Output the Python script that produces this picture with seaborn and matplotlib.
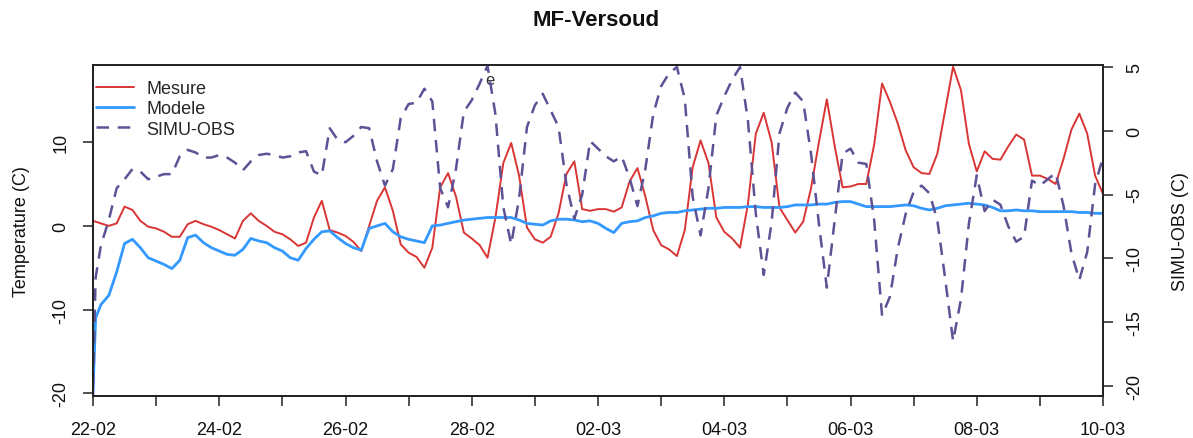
import numpy as np
import pandas as pd
import matplotlib
matplotlib.use("Agg")
import matplotlib.pyplot as plt
import seaborn as sns

# ---------------- data ----------------
# sampling times in hours since 22-02 00:00 (first two samples hourly, then every 3 h)
hours = np.concatenate([[0, 1], np.arange(3, 385, 3)])

# Mesure (observed temperature, C) - left axis
mesure = [0.6, 0.5,
          0.3, 0.0, 0.3, 2.3, 1.9, 0.6, -0.1, -0.3,
          -0.7, -1.3, -1.3, 0.2, 0.6, 0.2, -0.1, -0.5,
          -1.0, -1.5, 0.6, 1.5, 0.6, 0.0, -0.7, -1.0,
          -1.6, -2.4, -2.0, 1.0, 3.0, -0.5, -0.8, -1.2,
          -1.9, -3.0, 0.0, 3.0, 4.6, 1.8, -2.2, -3.2,
          -3.7, -5.0, -2.6, 4.6, 6.3, 3.5, -0.8, -1.5,
          -2.3, -3.8, 1.0, 7.5, 9.9, 6.0, -0.2, -1.6,
          -2.0, -1.3, 1.5, 6.2, 7.7, 2.0, 1.8, 2.0,
          2.0, 1.7, 2.2, 5.3, 6.9, 3.5, -0.5, -2.3,
          -2.8, -3.6, -0.5, 7.0, 10.2, 7.5, 1.0, -0.7,
          -1.5, -2.6, 2.6, 11.0, 13.5, 10.0, 2.2, 0.7,
          -0.8, 0.5, 4.5, 10.0, 15.1, 9.5, 4.6, 4.7,
          5.0, 5.0, 9.7, 17.0, 14.8, 12.2, 9.0, 7.0,
          6.3, 6.2, 8.6, 13.8, 19.0, 16.2, 9.8, 6.5,
          8.9, 8.0, 7.9, 9.5, 10.9, 10.3, 6.0, 6.0,
          5.6, 5.0, 8.0, 11.5, 13.4, 11.0, 6.0, 3.8]

# Modele (simulated temperature, C) - left axis
modele = [-20.0, -11.0,
          -9.4, -8.3, -5.5, -2.1, -1.6, -2.6, -3.8, -4.2,
          -4.6, -5.1, -4.1, -1.4, -1.1, -2.0, -2.6, -3.0,
          -3.4, -3.5, -2.8, -1.5, -1.8, -2.0, -2.6, -3.0,
          -3.8, -4.1, -2.7, -1.6, -0.7, -0.6, -1.4, -2.1,
          -2.6, -2.9, -0.3, 0.0, 0.3, -0.7, -1.3, -1.6,
          -1.8, -2.0, 0.0, 0.1, 0.3, 0.5, 0.7, 0.8,
          0.9, 1.0, 1.0, 1.0, 1.0, 0.7, 0.3, 0.2,
          0.1, 0.6, 0.8, 0.8, 0.7, 0.5, 0.6, 0.3,
          -0.3, -0.8, 0.3, 0.5, 0.6, 1.0, 1.2, 1.5,
          1.6, 1.6, 1.8, 1.9, 2.0, 2.1, 2.1, 2.2,
          2.2, 2.2, 2.3, 2.3, 2.2, 2.2, 2.2, 2.3,
          2.5, 2.5, 2.5, 2.6, 2.6, 2.8, 2.9, 2.9,
          2.6, 2.3, 2.3, 2.3, 2.3, 2.4, 2.5, 2.4,
          2.1, 1.9, 2.1, 2.4, 2.5, 2.6, 2.7, 2.6,
          2.5, 2.2, 1.8, 1.8, 1.9, 1.8, 1.8, 1.7,
          1.7, 1.7, 1.7, 1.7, 1.6, 1.6, 1.5, 1.5]

# SIMU-OBS (C) - right axis
simu_obs = [-20.0, -11.5,
            -9.0, -7.0, -4.5, -3.8, -3.0, -3.2, -3.8, -3.6,
            -3.4, -3.4, -2.0, -1.5, -1.7, -2.1, -2.1, -1.9,
            -2.1, -2.5, -3.1, -2.4, -1.9, -1.8, -1.9, -2.1,
            -2.0, -1.7, -1.6, -3.2, -3.5, 0.2, -0.7, -0.9,
            -0.4, 0.3, 0.2, -2.4, -4.3, -3.0, 1.0, 2.1,
            2.2, 3.3, 2.3, -4.5, -6.0, -3.0, 1.5, 2.4,
            3.7, 5.1, 1.3, -6.0, -8.9, -5.3, 0.3, 2.0,
            2.9, 1.6, 0.3, -4.2, -6.9, -5.0, -0.8, -1.4,
            -2.0, -2.4, -2.0, -3.7, -5.9, -3.0, 1.3, 3.5,
            4.5, 5.0, 2.5, -5.2, -8.2, -4.5, 1.2, 2.7,
            4.0, 5.0, 0.8, -6.5, -11.3, -7.2, -0.2, 1.8,
            3.0, 2.3, -1.8, -7.3, -12.3, -7.0, -1.8, -1.4,
            -2.5, -2.6, -7.0, -14.5, -13.0, -9.2, -6.5, -4.8,
            -4.3, -4.9, -7.0, -11.6, -16.5, -13.2, -7.3, -3.5,
            -6.3, -5.4, -5.8, -7.5, -8.7, -8.3, -3.9, -4.3,
            -3.8, -3.3, -5.9, -9.6, -11.7, -9.5, -4.2, -2.1]

date_labels = ["22-02", "24-02", "26-02", "28-02", "02-03",
               "04-03", "06-03", "08-03", "10-03"]
left_ticks = [-20, -10, 0, 10]
right_ticks = [-20, -15, -10, -5, 0, 5]

# ---------------- styling ----------------
sns.set_theme(style="ticks")
plt.rcParams["font.family"] = ["Liberation Sans", "DejaVu Sans"]

RED = "#DA3535"
BLUE = "#3399FF"
PURPLE = "#5E5296"

df = pd.DataFrame({"day": hours / 24.0, "Mesure": mesure,
                   "Modele": modele, "SIMU-OBS": simu_obs})

fig = plt.figure(figsize=(11.93, 4.39), dpi=100)
ax = fig.add_axes([93 / 1193, 1 - 397 / 439, 1010 / 1193, 331 / 439])
ax2 = ax.twinx()

sns.lineplot(data=df, x="day", y="Mesure", ax=ax, color=RED, lw=1.4,
             label="Mesure", legend=False)
sns.lineplot(data=df, x="day", y="Modele", ax=ax, color=BLUE, lw=2.0,
             label="Modele", legend=False)
sns.lineplot(data=df, x="day", y="SIMU-OBS", ax=ax2, color=PURPLE, lw=1.8,
             linestyle=(0, (5, 3.5)), label="SIMU-OBS", legend=False)

ax.set_xlim(0, 16)
ax.set_ylim(-20.3, 19.2)
ax2.set_ylim(-20.8, 5.16)

ax.set_xticks(np.arange(0, 17, 2))
ax.set_xticklabels(date_labels)
ax.set_xticks(np.arange(1, 17, 2), minor=True)
ax.set_yticks(left_ticks)
ax.set_yticklabels([str(v) for v in left_ticks])
ax2.set_yticks(right_ticks)
ax2.set_yticklabels([str(v) for v in right_ticks])

for a in (ax, ax2):
    for s in a.spines.values():
        s.set_visible(True)
        s.set_linewidth(1.3)
        s.set_color("#222222")
    a.tick_params(which="both", direction="out", length=7, width=1.1,
                  color="#222222", labelsize=13, labelcolor="#111111")
ax.tick_params(axis="x", which="both", pad=11)
ax.tick_params(axis="y", pad=10, labelrotation=90)
ax2.tick_params(axis="y", pad=10, labelrotation=90)
for lab in ax.get_yticklabels() + ax2.get_yticklabels():
    lab.set_va("center")

ax.set_xlabel("")
ax.set_ylabel("Temperature (C)", fontsize=13, color="#111111")
ax.yaxis.set_label_coords(-0.062, 0.5)
ax2.set_ylabel("SIMU-OBS (C)", fontsize=13, color="#111111")
ax2.yaxis.set_label_coords(1.068, 0.5)

fig.text(0.5, 1 - 20 / 439, "MF-Versoud", ha="center", va="center",
         fontsize=16, fontweight="bold", color="#111111")

# stray glyph in the reference
ax.text(6.29, 17.5, "e", ha="center", va="center", fontsize=12, color="#333333")

h1, l1 = ax.get_legend_handles_labels()
h2, l2 = ax2.get_legend_handles_labels()
ax2.legend(h1 + h2, l1 + l2, loc="upper left", bbox_to_anchor=(0.003, 0.954),
           frameon=False, fontsize=13, handlelength=2.1, handletextpad=0.7,
           labelspacing=0.18, borderpad=0, borderaxespad=0)

fig.savefig("out.png", dpi=100)
